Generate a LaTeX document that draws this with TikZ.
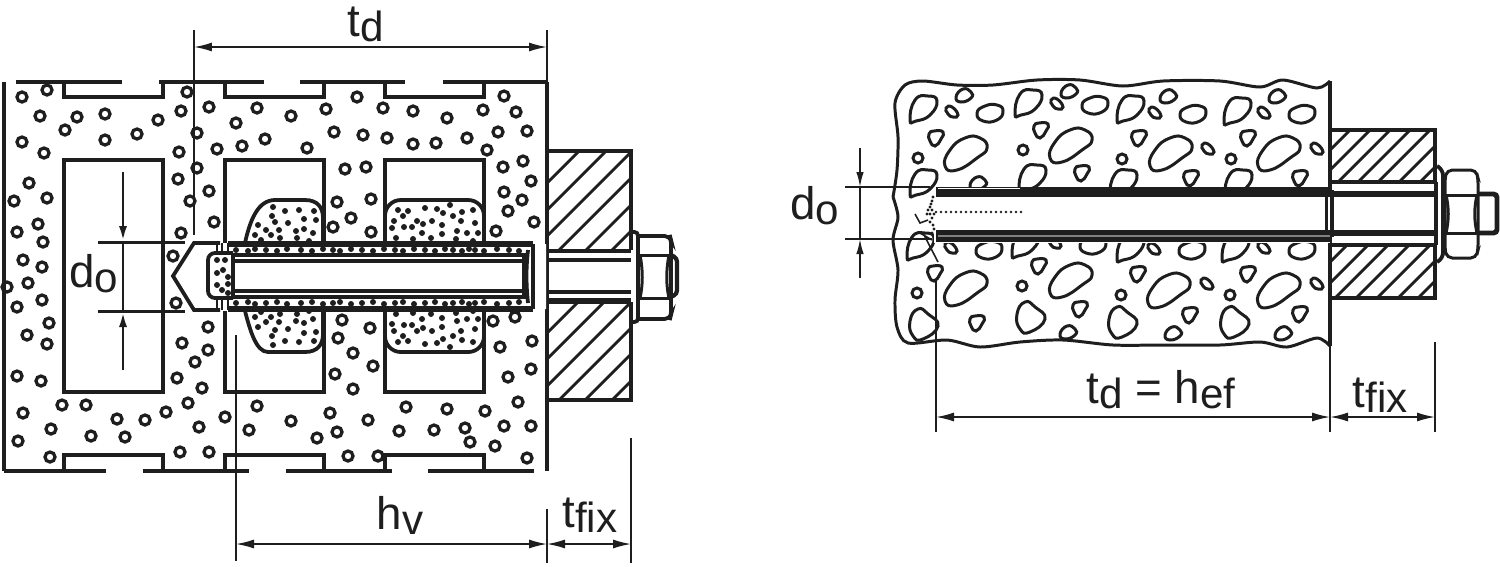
\documentclass[tikz,border=0pt]{standalone}
\usepackage{fontspec}
\setmainfont{Liberation Sans}
\usetikzlibrary{arrows.meta, positioning}
\definecolor{inkblack}{RGB}{30, 30, 30}
\newcommand{\dimsub}[1]{\raisebox{-0.11cm}{\fontsize{24}{24}\selectfont #1}}
\tikzset{
  wallline/.style={draw=inkblack, line width=2.15pt},
  thinwall/.style={draw=inkblack, line width=1.7pt},
  ringline/.style={draw=inkblack, line width=1.85pt},
  dimline/.style={draw=inkblack, line width=0.9pt},
  dimarrow/.style={dimline, {Latex[length=0.36cm, width=0.18cm]}-{Latex[length=0.36cm, width=0.18cm]}},
  hatchline/.style={draw=inkblack, line width=1.6pt},
  rockline/.style={draw=inkblack, line width=1.7pt, fill=white},
  dimtext/.style={anchor=base, inner sep=0pt, text=inkblack, font=\fontsize{26}{26}\selectfont},
  rockbean/.pic={\draw[rockline] plot[smooth cycle, tension=0.9] coordinates {(-20,13) (-15,-3) (0,-15) (15,-15) (22,-5) (12,5) (-8,17)};},
  rockegg/.pic={\draw[rockline] plot[smooth cycle, tension=0.9] coordinates {(-13,12) (-8,-8) (5,-12) (14,-7) (7,7) (-7,13)};},
  rockdrop/.pic={\draw[rockline] plot[smooth cycle, tension=0.9] coordinates {(-13,-3) (-5,-15) (5,-10) (15,2) (0,15) (-10,12)};},
  rockoval/.pic={\draw[rockline] plot[smooth cycle, tension=0.9] coordinates {(-13,0) (-5,-7) (7,-8) (13,-2) (7,7) (-7,8)};},
  rockpebble/.pic={\draw[rockline] plot[smooth cycle, tension=0.9] coordinates {(-8,2) (-1,-6) (7,-3) (7,3) (-3,7)};},
  rockchip/.pic={\draw[rockline] plot[smooth cycle, tension=0.9] coordinates {(-6,-4) (0,-5) (6,3) (1,5) (-4,2)};},
  rocktri/.pic={\draw[rockline] plot[smooth cycle, tension=0.9] coordinates {(-7,-4) (-2,-7) (7,-6) (5,1) (-1,8) (-6,3)};},
  rockring/.pic={\draw[rockline] plot[smooth cycle, tension=1] coordinates {(-5,0) (0,-5) (5,0) (0,5)};},
}

\begin{document}
\begin{tikzpicture}[x=0.02cm, y=-0.02cm]
  \useasboundingbox (0,0) rectangle (1500,566);

  % Left figure: aggregate rings
  \foreach \x/\y in {22/97,47/90,40/116,77/117,105/114,65/130,105/140,22/142,44/153,137/134,158/120,181/111,187/92,197/133,209/107,179/152,217/149,236/123,257/108,242/146,265/139,291/116,307/148,326/109,334/132,345/169,366/167,197/168,178/179,209/191,190/201,214/222,181/233,173/256,29/183,14/201,47/198,38/224,17/232,43/242,23/260,42/267,28/283,7/287,42/300,17/307,49/323,27/335,47/344,17/376,41/381,337/202,333/227,351/218,371/199,371/232,342/320,370/328,338/338,353/353,176/303,208/327,182/343,208/350,195/362,177/378,202/388,436/143,487/150,503/167,523/161,531/181,504/192,522/200,508/211,534/222,496/231,493/321,515/317,532/341,500/347,357/97,383/108,413/111,447/118,483/110,504/96,516/112,527/131,498/132,467/138,413/144,387/138,363/135,62/405,86/405,23/413,51/429,18/441,50/457,91/436,117/419,145/420,166/412,188/403,125/437,199/427,225/417,257/406,249/430,180/452,209/452,291/421,330/413,368/420,337/432,317/438,348/456,378/456,406/407,447/409,485/411,518/402,399/431,434/430,465/428,504/426,531/426,470/442,495/446,527/458,335/374,373/366,353/389,508/377,531/369}
    \draw[ringline] (\x,\y) circle (5);

  % Left figure: wall faces
  \draw[wallline] (4,82) -- (4,471);
  \draw[wallline] (547,82) -- (547,471);
  \draw[wallline] (16,82) -- (122,82);
  \draw[wallline] (159,82) -- (264,82);
  \draw[wallline] (300,82) -- (405,82);
  \draw[wallline] (443,82) -- (547,82);
  \draw[wallline] (4,471) -- (106,471);
  \draw[wallline] (143,471) -- (249,471);
  \draw[wallline] (286,471) -- (392,471);
  \draw[wallline] (428,471) -- (534,471);
  \foreach \xa/\xb in {64/163,225/324,385/484} {
    \draw[wallline] (\xa,82) -- (\xa,97) -- (\xb,97) -- (\xb,82);
    \draw[wallline] (\xa,471) -- (\xa,455) -- (\xb,455) -- (\xb,471);
    \draw[wallline] (\xa,243) -- (\xa,160) -- (\xb,160) -- (\xb,243);
    \draw[wallline] (\xa,311) -- (\xa,392) -- (\xb,392) -- (\xb,311);
  }
  \draw[wallline] (64,243) -- (64,311);
  \draw[wallline] (163,243) -- (163,311);

  % Left figure: mortar bulges
  \draw[wallline] (245,243) .. controls (250,220) and (258,200) .. (275,200) -- (305,200) .. controls (318,200) and (323,208) .. (323,218) -- (323,243);
  \draw[wallline] (245,311) .. controls (250,330) and (256,352) .. (268,352) -- (305,352) .. controls (318,352) and (323,344) .. (323,334) -- (323,311);
  \draw[wallline, rounded corners=9pt] (385,243) -- (385,200) -- (484,200) -- (484,243);
  \draw[wallline, rounded corners=9pt] (385,311) -- (385,352) -- (484,352) -- (484,311);
  \foreach \x/\y in {273/207,285/211,299/210,314/211,272/216,275/222,288/223,304/219,316/220,258/225,266/230,279/230,296/231,304/229,313/233,255/235,271/235,280/238,297/238,261/240,309/241,398/210,408/211,425/208,437/209,443/213,453/216,462/212,473/210,450/205,403/216,394/221,417/221,432/221,461/221,475/223,442/225,404/227,412/227,423/224,392/228,457/231,467/233,478/233,422/233,442/234,431/238,396/238,413/239,456/239,473/241} {
    \fill[inkblack] (\x,\y) circle (3);
    \fill[inkblack] (\x,552-\y) circle (3);
  }

  % Left figure: drill hole and sleeve
  \fill[white] (173,276) -- (194,244) -- (546,244) -- (546,309) -- (194,309) -- cycle;
  \draw[wallline] (220,243) -- (194,243) -- (173,276) -- (194,310) -- (220,310);
  \draw[thinwall] (217,243) -- (217,253) (222,243) -- (222,253) (228,243) -- (228,253);
  \draw[thinwall] (217,299) -- (217,310) (222,299) -- (222,310) (228,299) -- (228,310);
  \draw[wallline, rounded corners=4pt] (233,253) -- (208,253) -- (208,298) -- (233,298);
  \draw[inkblack, line width=3pt] (228,244) -- (533,244);
  \draw[inkblack, line width=3pt] (228,309) -- (533,309);
  \draw[wallline] (233,255) -- (526,255);
  \draw[wallline] (233,297) -- (526,297);
  \draw[wallline] (235,261) -- (524,261);
  \draw[wallline] (235,291) -- (524,291);
  \draw[wallline] (233,255) -- (233,297);
  \draw[wallline] (524,255) -- (524,297);
  \draw[wallline] (528,250) .. controls (526,268) and (526,284) .. (528,303);
  \draw[wallline] (533,244) -- (533,309);
  \foreach \x [count=\n] in {236,248,255,266,277,287,301,312,323,333,340,351,362,373,384,395,403,414,425,435,445,453,462,469,475,484,497,509,519} {
    \pgfmathsetmacro{\wob}{mod(\n,3)-1}
    \fill[inkblack] (\x,250+\wob) circle (3);
    \fill[inkblack] (\x,303-\wob) circle (3);
  }
  \foreach \x/\y in {217/260,225/260,217/273,223/270,228/277,228/284,217/285,222/290,228/293}
    \fill[inkblack] (\x,\y) circle (3);

  % Left figure: fixture plate
  \begin{scope}
    \clip (548,151) rectangle (631,250);
    \foreach \c in {730,757,783,809,836,862}
      \draw[hatchline] (548,\c-548) -- (631,\c-631);
  \end{scope}
  \begin{scope}
    \clip (548,302) rectangle (631,400);
    \foreach \c in {880,906,933,959,985,1012}
      \draw[hatchline] (548,\c-548) -- (631,\c-631);
  \end{scope}
  \draw[wallline] (548,151) -- (631,151) -- (631,250);
  \draw[wallline] (631,302) -- (631,400) -- (548,400);
  \draw[inkblack, line width=2.4pt] (548,251) -- (631,251);
  \draw[wallline] (548,260) -- (631,260);
  \draw[wallline] (548,292) -- (631,292);
  \draw[inkblack, line width=3pt] (548,301) -- (631,301);

  % Left figure: washer, nut
  \draw[wallline, rounded corners=2pt] (631,232) -- (638,232) -- (638,322) -- (631,322);
  \draw[wallline, rounded corners=3pt] (638,236) -- (670,236) -- (671,240) -- (671,315) -- (670,319) -- (638,319);
  \draw[thinwall] (640,255) -- (670,255) (640,298) -- (670,298);
  \draw[thinwall] (640,255) .. controls (643,270) and (643,285) .. (640,298);
  \draw[thinwall] (669,255) .. controls (666,270) and (666,285) .. (669,298);
  \draw[inkblack, line width=2.4pt, rounded corners=2pt] (671,255) -- (677,258) -- (677,294) -- (671,297);

  % Left figure: dimensions
  \coordinate (tdleft) at (194,47);
  \coordinate (tdright) at (547,47);
  \coordinate (hvleft) at (236,544);
  \coordinate (hvright) at (547,544);
  \coordinate (fixright) at (631,544);
  \draw[dimline] (194,30) -- (194,235);
  \draw[dimline] (547,30) -- (547,82);
  \draw[dimline] (236,335) -- (236,561);
  \draw[dimline] (547,509) -- (547,563);
  \draw[dimline] (631,438) -- (631,563);
  \draw[dimarrow] (tdleft) -- (tdright);
  \draw[dimarrow] (hvleft) -- (hvright);
  \draw[dimarrow] (hvright) -- (fixright);
  \draw[thinwall] (98,242) -- (185,242) (98,311) -- (185,311);
  \coordinate (dotopa) at (123,172);
  \coordinate (dotopb) at (123,242);
  \coordinate (dobota) at (123,370);
  \coordinate (dobotb) at (123,311);
  \draw[thinwall, -{Latex[length=0.32cm, width=0.16cm]}] (dotopa) -- (dotopb);
  \draw[thinwall, -{Latex[length=0.32cm, width=0.16cm]}] (dobota) -- (dobotb);
  \draw[thinwall] (dotopb) -- (dobotb);
  \node[dimtext] (tdlabel) at (366,36) {t\dimsub{d}};
  \node[dimtext] (dolabel) at (94,287) {d\dimsub{o}};
  \node[dimtext] (hvlabel) at (400,529) {h\dimsub{v}};
  \node[dimtext] (fixlabel) at (590,527) {t\dimsub{fix}};

  % Right figure: rocks
  \foreach \x/\y in {965/153,1070/145,1170/153,1278/153,965/288,1070/280,1168/290,1278/290} \pic at (\x,\y) {rockbean};
  \foreach \x/\y in {923/108,1028/102,1130/108,1237/110,923/182,1032/177,1123/182,1238/182,920/245,1025/243,1130/247,1235/247} \pic at (\x,\y) {rockegg};
  \foreach \x/\y in {923/324,1030/317,1122/322,1234/322} \pic at (\x,\y) {rockdrop};
  \foreach \x/\y in {990/113,1095/105,1193/114,1302/114,989/250,1093/245,1192/250,1302/250} \pic at (\x,\y) {rockoval};
  \foreach \x/\y in {964/95,1069/91,1168/96,1277/96,1068/332,1173/333,1283/333,978/183} \pic at (\x,\y) {rockpebble};
  \foreach \x/\y in {952/112,1057/104,1155/113,1264/113,951/248,1055/243,1154/249,1264/248,1208/149,1317/149,1207/284,1317/284} \pic at (\x,\y) {rockchip};
  \foreach \x/\y in {936/138,1041/130,1082/173,1139/138,1248/138,1191/178,1300/178,1039/266,935/273,1138/274,1248/274,977/323,1080/309,1190/315,1300/314} \pic at (\x,\y) {rocktri};
  \foreach \x/\y in {918/158,1023/150,1122/159,1231/159,1022/286,1121/295,917/293,1230/295} \pic at (\x,\y) {rockring};

  % Right figure: concrete outline
  \draw[rockline, fill=none] plot[smooth] coordinates {(893,197) (897,170) (898,137) (895,103) (905,85) (923,81) (957,85) (993,85) (1037,80) (1080,80) (1123,86) (1163,81) (1220,81) (1260,87) (1283,80) (1317,88) (1330,81)};
  \draw[rockline, fill=none] plot[smooth] coordinates {(893,197) (898,217) (893,240) (898,270) (895,300) (897,327) (908,343) (947,340) (980,347) (1020,342) (1063,340) (1113,345) (1163,345) (1220,345) (1260,342) (1287,347) (1317,338) (1330,346)};
  \draw[wallline] (1330,81) -- (1330,346);

  % Right figure: drill hole and rod
  \fill[white] (934,187) rectangle (1330,243);
  \fill[inkblack] (936,187) rectangle (1330,197);
  \fill[inkblack] (936,230) rectangle (1330,242);
  \draw[white, line width=0.5pt] (938,188) -- (1020,188);
  \draw[gray, line width=0.6pt] (938,236) -- (1330,236);
  \draw[thinwall] (1326,197) -- (1326,230);
  \draw[thinwall] (1332,190) -- (1332,237);
  \foreach \x in {936,941,...,1024}
    \fill[inkblack] (\x,212) circle (1.3);
  \foreach \x/\y in {933/197,932/201,931/204,930/207,928/210,932/210,934/214,930/214,927/214,932/218,930/222,933/225,934/229,932/233}
    \fill[inkblack] (\x,\y) circle (1.6);
  \draw[dimline] (915,214) -- (920,223) -- (928,220) (923,233) -- (938,262) (920,233) -- (932,240);

  % Right figure: fixture plate
  \begin{scope}
    \clip (1330,130) rectangle (1435,182);
    \foreach \c in {1480,1500,1520,1540,1560,1581,1602}
      \draw[hatchline] (1330,\c-1330) -- (1435,\c-1435);
  \end{scope}
  \begin{scope}
    \clip (1330,245) rectangle (1435,298);
    \foreach \c in {1592,1613,1633,1654,1675,1696,1716}
      \draw[hatchline] (1330,\c-1330) -- (1435,\c-1435);
  \end{scope}
  \draw[wallline] (1330,130) rectangle (1435,182);
  \draw[wallline] (1330,245) rectangle (1435,298);
  \draw[inkblack, line width=3pt] (1332,194) -- (1436,194);
  \draw[inkblack, line width=3pt] (1332,233) -- (1436,233);
  \draw[wallline] (1436,182) -- (1436,245);

  % Right figure: washer, nut
  \draw[wallline, rounded corners=3pt] (1437,166) -- (1443,170) -- (1443,258) -- (1437,262);
  \draw[thinwall, rounded corners=3pt] (1447,170) -- (1476,170) -- (1478,178) -- (1478,250) -- (1476,258) -- (1447,258) -- (1445,250) -- (1445,178) -- cycle;
  \draw[thinwall] (1446,195) -- (1477,195) (1446,233) -- (1477,233);
  \draw[thinwall] (1446,195) .. controls (1449,208) and (1449,220) .. (1446,233);
  \draw[thinwall] (1477,195) .. controls (1474,208) and (1474,220) .. (1477,233);
  \draw[inkblack, line width=2.8pt, rounded corners=2pt] (1478,194) -- (1497,194) -- (1497,233) -- (1478,233);

  % Right figure: dimensions
  \coordinate (hefleft) at (936,417);
  \coordinate (hefright) at (1330,417);
  \coordinate (rfixright) at (1435,417);
  \draw[dimline] (936,280) -- (936,432);
  \draw[dimline] (1330,346) -- (1330,432);
  \draw[dimline] (1435,342) -- (1435,432);
  \draw[dimarrow] (hefleft) -- (hefright);
  \draw[dimarrow] (hefright) -- (rfixright);
  \draw[dimline] (845,187) -- (930,187) (845,239) -- (932,239);
  \coordinate (rdotopa) at (860,148);
  \coordinate (rdotopb) at (860,187);
  \coordinate (rdobota) at (860,278);
  \coordinate (rdobotb) at (860,239);
  \draw[dimline, -{Latex[length=0.3cm, width=0.15cm]}] (rdotopa) -- (rdotopb);
  \draw[dimline, -{Latex[length=0.3cm, width=0.15cm]}] (rdobota) -- (rdobotb);
  \draw[dimline] (rdotopb) -- (rdobotb);
  \node[dimtext] (rdolabel) at (815,219) {d\dimsub{o}};
  \node[dimtext] (heflabel) at (1161,403) {t\dimsub{d} = h\dimsub{ef}};
  \node[dimtext] (rfixlabel) at (1380,407) {t\dimsub{fix}};
\end{tikzpicture}
\end{document}
